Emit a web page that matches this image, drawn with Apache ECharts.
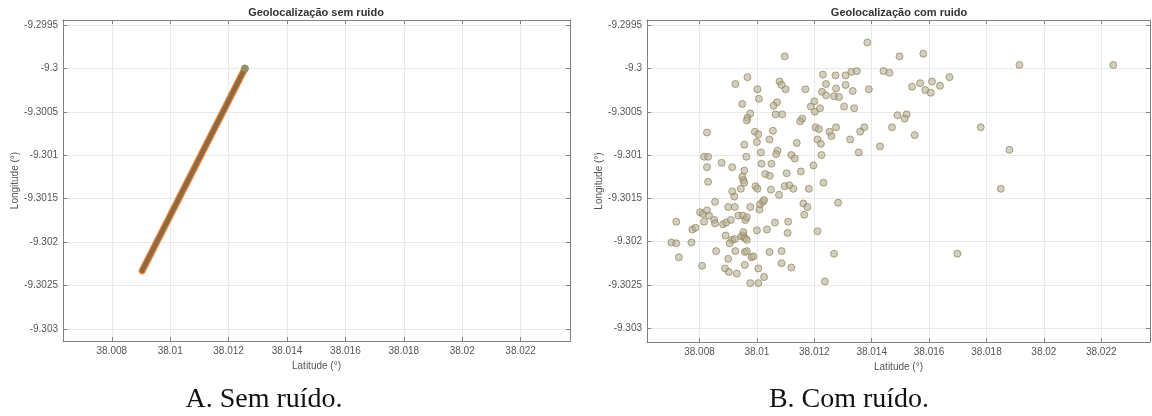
<!DOCTYPE html>
<html>
<head>
<meta charset="utf-8">
<script src="https://cdn.jsdelivr.net/npm/echarts@6/dist/echarts.min.js"></script>
<style>
html,body{margin:0;padding:0;background:#fff;}
#chart{width:1152px;height:416px;}
</style>
</head>
<body>
<div id="chart"></div>
<script>
// ---- data ----
const latTicks = [38.008, 38.010, 38.012, 38.014, 38.016, 38.018, 38.020, 38.022];
const lonTicks = [-9.3030, -9.3025, -9.3020, -9.3015, -9.3010, -9.3005, -9.3000, -9.2995];

// panel A: track without noise (start and end of the straight track)
const cleanLat = [38.00904, 38.01256];
const cleanLon = [-9.30233, -9.30000];

// panel B: noisy positions [latitude, longitude]
const noisyPoints = [
 [38.01385,-9.29970],[38.01097,-9.29986],[38.00925,-9.30018],[38.00967,-9.30010],[38.01079,-9.30015],
 [38.01086,-9.30019],[38.01100,-9.30024],[38.01002,-9.30024],[38.01169,-9.30024],[38.01230,-9.30007],
 [38.01274,-9.30008],[38.01309,-9.30008],[38.01329,-9.30004],[38.01348,-9.30003],[38.01241,-9.30018],
 [38.01276,-9.30023],[38.01309,-9.30019],[38.01334,-9.30026],[38.01390,-9.30024],[38.01227,-9.30027],
 [38.01241,-9.30031],[38.01269,-9.30032],[38.01286,-9.30033],[38.01007,-9.30035],[38.00949,-9.30041],
 [38.01070,-9.30039],[38.01058,-9.30043],[38.01200,-9.30038],[38.01188,-9.30044],[38.01202,-9.30050],
 [38.01220,-9.30046],[38.01304,-9.30044],[38.01339,-9.30046],[38.00977,-9.30052],[38.00967,-9.30057],
 [38.00965,-9.30060],[38.01065,-9.30053],[38.01088,-9.30053],[38.01158,-9.30058],[38.01151,-9.30061],
 [38.00826,-9.30074],[38.00993,-9.30073],[38.01005,-9.30076],[38.01056,-9.30072],[38.01204,-9.30068],
 [38.01216,-9.30070],[38.01253,-9.30073],[38.01260,-9.30078],[38.01276,-9.30068],[38.01374,-9.30068],
 [38.01360,-9.30073],[38.00956,-9.30088],[38.01000,-9.30085],[38.01044,-9.30082],[38.01139,-9.30086],
 [38.01211,-9.30082],[38.01223,-9.30087],[38.01325,-9.30082],[38.01355,-9.30097],[38.01014,-9.30097],
 [38.01072,-9.30095],[38.01067,-9.30099],[38.01225,-9.30100],[38.00816,-9.30102],[38.00830,-9.30102],
 [38.00826,-9.30114],[38.00877,-9.30109],[38.00914,-9.30114],[38.00963,-9.30102],[38.01120,-9.30100],
 [38.01132,-9.30104],[38.01016,-9.30110],[38.01051,-9.30110],[38.01197,-9.30112],[38.01153,-9.30119],
 [38.01104,-9.30121],[38.01029,-9.30122],[38.01045,-9.30124],[38.00956,-9.30118],[38.00949,-9.30125],
 [38.01429,-9.30090],[38.01497,-9.29986],[38.01580,-9.29983],[38.01915,-9.29996],[38.02242,-9.29996],
 [38.01441,-9.30003],[38.01462,-9.30005],[38.01541,-9.30021],[38.01569,-9.30017],[38.01610,-9.30015],
 [38.01638,-9.30020],[38.01671,-9.30010],[38.01587,-9.30025],[38.01606,-9.30028],[38.01490,-9.30054],
 [38.01522,-9.30053],[38.01515,-9.30058],[38.01471,-9.30068],[38.01550,-9.30077],[38.01780,-9.30068],
 [38.01880,-9.30094],[38.01850,-9.30139],[38.01699,-9.30214],
 [38.00830,-9.30131],[38.00854,-9.30154],[38.00719,-9.30177],[38.00802,-9.30166],[38.00812,-9.30168],
 [38.00826,-9.30164],[38.00833,-9.30170],[38.00816,-9.30177],[38.00851,-9.30175],[38.00854,-9.30179],
 [38.00775,-9.30186],[38.00786,-9.30184],[38.00702,-9.30201],[38.00719,-9.30202],[38.00772,-9.30201],
 [38.00728,-9.30218],[38.00809,-9.30228],[38.00858,-9.30211],[38.00882,-9.30180],[38.00893,-9.30178],
 [38.00909,-9.30175],[38.00891,-9.30193],[38.00914,-9.30198],[38.00923,-9.30197],[38.00905,-9.30202],
 [38.00925,-9.30211],[38.00900,-9.30220],[38.00889,-9.30231],[38.00902,-9.30235],[38.00930,-9.30237],
 [38.00946,-9.30194],[38.00953,-9.30193],[38.00958,-9.30196],[38.00965,-9.30198],[38.00953,-9.30189],
 [38.00958,-9.30212],[38.00965,-9.30211],[38.00981,-9.30218],[38.00988,-9.30217],[38.00958,-9.30227],
 [38.00977,-9.30248],[38.01005,-9.30248],[38.01005,-9.30231],[38.01025,-9.30241],[38.01044,-9.30212],
 [38.01000,-9.30187],[38.01035,-9.30186],[38.01063,-9.30178],[38.01109,-9.30177],[38.01107,-9.30190],
 [38.01086,-9.30211],[38.01086,-9.30225],[38.01120,-9.30230],[38.00900,-9.30160],[38.00923,-9.30160],
 [38.00935,-9.30170],[38.00951,-9.30170],[38.00960,-9.30175],[38.00965,-9.30172],[38.00977,-9.30160],
 [38.01009,-9.30163],[38.01011,-9.30157],[38.01021,-9.30154],[38.01025,-9.30152],[38.00921,-9.30148],
 [38.00914,-9.30142],[38.00944,-9.30139],[38.00953,-9.30129],[38.00956,-9.30132],[38.00995,-9.30136],
 [38.01002,-9.30139],[38.01049,-9.30140],[38.01077,-9.30146],[38.01097,-9.30136],[38.01113,-9.30135],
 [38.01127,-9.30139],[38.01181,-9.30139],[38.01232,-9.30132],[38.01162,-9.30156],[38.01176,-9.30160],
 [38.01165,-9.30169],[38.01283,-9.30155],[38.01211,-9.30188],[38.01269,-9.30214],[38.01237,-9.30246]
];

// ---- chart ----
const fmt = v => String(parseFloat(Number(v).toFixed(4)));
const AX = '#808080';
const labelFont = 'Liberation Sans';

function xAxis(gi, pos, min, max, main) {
  return {
    type: 'value', gridIndex: gi, position: pos, min: min, max: max,
    axisLine: {show: true, onZero: false, lineStyle: {color: AX, width: 1}},
    axisTick: {show: true, inside: true, length: 4, customValues: latTicks, lineStyle: {color: AX}},
    axisLabel: {show: main, customValues: latTicks, formatter: fmt, color: '#555', fontSize: 10, fontFamily: labelFont, margin: 5},
    splitLine: {show: main, lineStyle: {color: '#e9e9e9', width: 1}},
    name: main ? 'Latitude (°)' : '', nameLocation: 'middle', nameGap: 17,
    nameTextStyle: {color: '#555', fontSize: 10, fontFamily: labelFont}
  };
}
function yAxis(gi, pos, min, max, main) {
  return {
    type: 'value', gridIndex: gi, position: pos, min: min, max: max,
    axisLine: {show: true, onZero: false, lineStyle: {color: AX, width: 1}},
    axisTick: {show: true, inside: true, length: 4, customValues: lonTicks, lineStyle: {color: AX}},
    axisLabel: {show: main, customValues: lonTicks, formatter: fmt, color: '#555', fontSize: 10, fontFamily: labelFont, margin: 5},
    splitLine: {show: main, lineStyle: {color: '#e9e9e9', width: 1}},
    name: main ? 'Longitude (°)' : '', nameLocation: 'middle', nameGap: 42, nameRotate: 90,
    nameTextStyle: {color: '#555', fontSize: 10, fontFamily: labelFont}
  };
}

const xA = [38.00633, 38.02369], xB = [38.00617, 38.0237];
const yA = [-9.303138, -9.299442], yB = [-9.30316, -9.29944];

const chart = echarts.init(document.getElementById('chart'), null, {renderer: 'canvas'});
chart.setOption({
  animation: false,
  backgroundColor: '#ffffff',
  grid: [
    {left: 63, top: 20, width: 507, height: 321, containLabel: false},
    {left: 647, top: 20, width: 503, height: 322, containLabel: false}
  ],
  xAxis: [
    xAxis(0, 'bottom', xA[0], xA[1], true), xAxis(0, 'top', xA[0], xA[1], false),
    xAxis(1, 'bottom', xB[0], xB[1], true), xAxis(1, 'top', xB[0], xB[1], false)
  ],
  yAxis: [
    yAxis(0, 'left', yA[0], yA[1], true), yAxis(0, 'right', yA[0], yA[1], false),
    yAxis(1, 'left', yB[0], yB[1], true), yAxis(1, 'right', yB[0], yB[1], false)
  ],
  series: [
    {type: 'line', xAxisIndex: 0, yAxisIndex: 0, data: cleanLat.map((v, i) => [v, cleanLon[i]]),
     showSymbol: false, lineStyle: {color: '#e8823f', width: 7, cap: 'round'}, silent: true, z: 2},
    {type: 'line', xAxisIndex: 0, yAxisIndex: 0, data: cleanLat.map((v, i) => [v, cleanLon[i]]),
     showSymbol: false, lineStyle: {color: '#8f6a3e', width: 4.5, cap: 'round'}, silent: true, z: 3},
    {type: 'scatter', xAxisIndex: 0, yAxisIndex: 0, data: [[cleanLat[1], cleanLon[1]]],
     symbolSize: 7, itemStyle: {color: '#8f9c72', borderColor: '#7f8a60', borderWidth: 1}, z: 4},
    {type: 'scatter', xAxisIndex: 2, yAxisIndex: 2, data: noisyPoints, symbolSize: 7,
     itemStyle: {color: 'rgba(175,175,155,0.75)', borderColor: 'rgba(150,125,75,0.85)', borderWidth: 1}, z: 3}
  ],
  graphic: [
    {type: 'text', x: 316, y: 13, style: {text: 'Geolocalização sem ruido', textAlign: 'center', textVerticalAlign: 'middle', font: 'bold 11px "Liberation Sans"', fill: '#333'}},
    {type: 'text', x: 899, y: 13, style: {text: 'Geolocalização com ruido', textAlign: 'center', textVerticalAlign: 'middle', font: 'bold 11px "Liberation Sans"', fill: '#333'}},
    {type: 'text', x: 264, y: 400, style: {text: 'A. Sem ruído.', textAlign: 'center', textVerticalAlign: 'middle', font: '28px "Liberation Serif"', fill: '#111'}},
    {type: 'text', x: 849, y: 400, style: {text: 'B. Com ruído.', textAlign: 'center', textVerticalAlign: 'middle', font: '28px "Liberation Serif"', fill: '#111'}}
  ]
});
</script>
</body>
</html>
